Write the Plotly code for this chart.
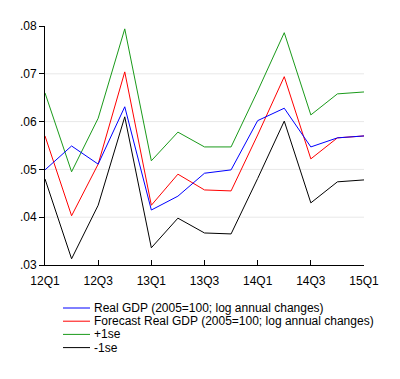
import plotly.graph_objects as go

quarters = ["12Q1", "12Q2", "12Q3", "12Q4", "13Q1", "13Q2", "13Q3", "13Q4",
            "14Q1", "14Q2", "14Q3", "14Q4", "15Q1"]
x_ticks = ["12Q1", "12Q3", "13Q1", "13Q3", "14Q1", "14Q3", "15Q1"]
y_ticks = [0.03, 0.04, 0.05, 0.06, 0.07, 0.08]
y_ticktext = [".03", ".04", ".05", ".06", ".07", ".08"]
grid_vals = [0.04, 0.05, 0.06, 0.07]

real_gdp = [0.0499, 0.0549, 0.0511, 0.0631, 0.0415, 0.0444, 0.0492, 0.0499,
            0.0602, 0.0628, 0.0547, 0.0566, 0.0570]
forecast = [0.0570, 0.0403, 0.0511, 0.0704, 0.0425, 0.0490, 0.0457, 0.0455,
            0.0572, 0.0694, 0.0522, 0.0566, 0.0570]
plus_se = [0.0660, 0.0495, 0.0607, 0.0794, 0.0518, 0.0578, 0.0547, 0.0547,
           0.0664, 0.0786, 0.0614, 0.0658, 0.0662]
minus_se = [0.0480, 0.0313, 0.0425, 0.0610, 0.0336, 0.0398, 0.0367, 0.0365,
            0.0481, 0.0601, 0.0430, 0.0474, 0.0478]

names = ["Real GDP (2005=100; log annual changes)",
         "Forecast Real GDP (2005=100; log annual changes)",
         "+1se", "-1se"]
colors = ["#0000ff", "#ff0000", "#1a9a1a", "#000000"]
series = [real_gdp, forecast, plus_se, minus_se]

fig = go.Figure()
for g in grid_vals:
    fig.add_shape(type="line", xref="paper", yref="y", x0=0, x1=1, y0=g, y1=g,
                  line=dict(color="#e8e8e8", width=1), layer="below")

# draw order: green, black, red, blue on top
for i in [2, 3, 1, 0]:
    fig.add_trace(go.Scatter(x=quarters, y=series[i], mode="lines",
                             name=names[i], line=dict(color=colors[i], width=1),
                             showlegend=False))

# manual legend (compact, like the reference)
PW, PH = 319, 239
leg_y0 = -(308 - 265) / PH
step = 13.2 / PH
for k in range(4):
    yy = leg_y0 - k * step
    fig.add_shape(type="line", xref="paper", yref="paper",
                  x0=(63 - 45) / PW, x1=(90 - 45) / PW, y0=yy, y1=yy,
                  line=dict(color=colors[k], width=1))
    fig.add_annotation(xref="paper", yref="paper", x=(92 - 45) / PW, y=yy,
                       text=names[k], showarrow=False, xanchor="left",
                       yanchor="middle", font=dict(size=12, color="#000"))

fig.update_layout(
    width=400, height=379,
    margin=dict(l=37, r=44, t=18, b=122),
    paper_bgcolor="white", plot_bgcolor="white",
    font=dict(family="Liberation Sans, Arial, sans-serif", size=12, color="#000"),
    xaxis=dict(type="category", categoryorder="array", categoryarray=quarters,
               range=[0, 12], tickvals=x_ticks, ticktext=x_ticks,
               showgrid=False, showline=True, linecolor="#000", linewidth=1,
               ticks="inside", ticklen=5, tickcolor="#000", zeroline=False,
               ticklabelstandoff=5),
    yaxis=dict(range=[0.03, 0.08], tickvals=y_ticks, ticktext=y_ticktext,
               showgrid=False,
               showline=True, linecolor="#000", linewidth=1,
               ticks="outside", ticklen=5, tickcolor="#000", zeroline=False),
)

fig.write_html("out.html")
